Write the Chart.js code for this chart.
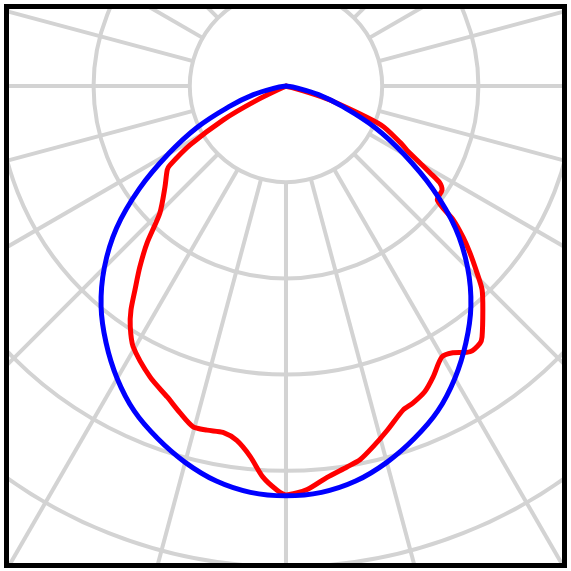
<!DOCTYPE html>
<html>
<head>
<meta charset="utf-8">
<title>Polar intensity diagram</title>
<script src="https://cdn.jsdelivr.net/npm/chart.js@4.4.1/dist/chart.umd.min.js"></script>
<style>
  html, body { margin: 0; padding: 0; background: #fff; }
  #wrap { width: 571px; height: 571px; }
</style>
</head>
<body>
<div id="wrap"><canvas id="polarChart"></canvas></div>
<script>
// measured curve (red) - angle in degrees from nadir, negative = left half
const redAngles = [-66, -64, -61.6, -58.4, -55.7, -54.8, -50.1, -44.8, -41.5, -38.9, -36.5, -34.7, -32.9, -30.4,
    -25, -20.9, -18, -15.3, -12.9, -10.3, -7.9, -5.5, -3.4, -1.3, 0,
    3, 6, 9.1, 11.2, 13.5, 16.4, 19.9, 21.8, 24.4, 26.8, 29.9, 32, 34.7, 37, 38,
    41.3, 43.9, 45.6, 47.8, 49.5, 51.3, 53, 56.3, 57.8, 58.9, 60.1, 62.1, 63.6, 67.7, 72.3, 74, 76];
const redValues = [0, 33, 74, 117, 146, 151, 164, 186, 218, 242, 264, 283, 298, 314,
    334, 346, 357, 367, 367, 366, 372, 387, 407, 420, 425,
    420, 409, 401, 396, 386, 373, 358, 355, 349, 339, 325, 327, 336, 335, 331,
    310, 294, 278, 258, 242, 223, 197, 195, 189, 175, 161, 142, 133, 107, 48, 23, 0];

// reference curve (blue)
const blueAngles = [-85, -80, -75, -70, -65, -60, -55, -50, -45, -40, -35, -30, -25, -20, -15, -10, -5, 0,
    5, 10, 15, 20, 25, 30, 35, 40, 45, 50, 55, 60, 65, 70, 75, 80, 85];
const blueValues = [0, 10, 35, 63, 102, 141, 186, 230, 267, 299, 326, 351, 373, 390, 405, 417, 424, 426,
    424, 417, 405, 390, 373, 351, 326, 299, 267, 230, 186, 141, 102, 63, 35, 10, 0];

// grid rings and spoke spacing
const gridRings = [100, 200, 300, 400, 500];
const spokeStep = 15;

function toXY(angles, values) {
    var pts = [];
    for (var i = 0; i < angles.length; i++) {
        var a = angles[i] * Math.PI / 180;
        pts.push({ x: values[i] * Math.sin(a), y: -values[i] * Math.cos(a) });
    }
    return pts;
}

// draws the polar grid behind the curves, and the black frame on top
const polarGrid = {
    id: 'polarGrid',
    beforeDatasetsDraw: function(chart) {
        var ctx = chart.ctx;
        var area = chart.chartArea;
        var xs = chart.scales.x;
        var ys = chart.scales.y;
        var cx = xs.getPixelForValue(0);
        var cy = ys.getPixelForValue(0);
        ctx.save();
        ctx.beginPath();
        ctx.rect(area.left, area.top, area.right - area.left, area.bottom - area.top);
        ctx.clip();
        ctx.strokeStyle = '#d3d3d3';
        ctx.lineWidth = 4;
        gridRings.forEach(function(r) {
            ctx.beginPath();
            ctx.arc(cx, cy, xs.getPixelForValue(r) - cx, 0, Math.PI * 2);
            ctx.stroke();
        });
        var r0 = gridRings[0];
        for (var deg = 0; deg < 360; deg += spokeStep) {
            var a = deg * Math.PI / 180;
            ctx.beginPath();
            ctx.moveTo(xs.getPixelForValue(r0 * Math.sin(a)), ys.getPixelForValue(-r0 * Math.cos(a)));
            ctx.lineTo(xs.getPixelForValue(900 * Math.sin(a)), ys.getPixelForValue(-900 * Math.cos(a)));
            ctx.stroke();
        }
        ctx.restore();
    },
    afterDraw: function(chart) {
        var ctx = chart.ctx;
        var area = chart.chartArea;
        ctx.save();
        ctx.strokeStyle = '#000';
        ctx.lineWidth = 5;
        ctx.strokeRect(area.left, area.top, area.right - area.left, area.bottom - area.top);
        ctx.restore();
    }
};

new Chart(document.getElementById('polarChart'), {
    type: 'scatter',
    data: {
        datasets: [{
            label: 'Reference',
            data: toXY(blueAngles, blueValues),
            showLine: true,
            borderColor: '#0000ff',
            borderWidth: 5,
            tension: 0.4,
            pointRadius: 0,
            borderJoinStyle: 'round',
            borderCapStyle: 'round'
        }, {
            label: 'Measured',
            data: toXY(redAngles, redValues),
            showLine: true,
            borderColor: '#ff0000',
            borderWidth: 5,
            tension: 0.25,
            pointRadius: 0,
            borderJoinStyle: 'round',
            borderCapStyle: 'round'
        }]
    },
    options: {
        animation: false,
        responsive: true,
        maintainAspectRatio: false,
        layout: { padding: { left: 6.5, right: 6.5, top: 6.5, bottom: 5.5 } },
        plugins: {
            legend: { display: false },
            tooltip: { enabled: false }
        },
        scales: {
            x: { type: 'linear', min: -290.5, max: 289.5, display: false },
            y: { type: 'linear', min: -498.4, max: 82.6, display: false }
        }
    },
    plugins: [polarGrid]
});
</script>
</body>
</html>
